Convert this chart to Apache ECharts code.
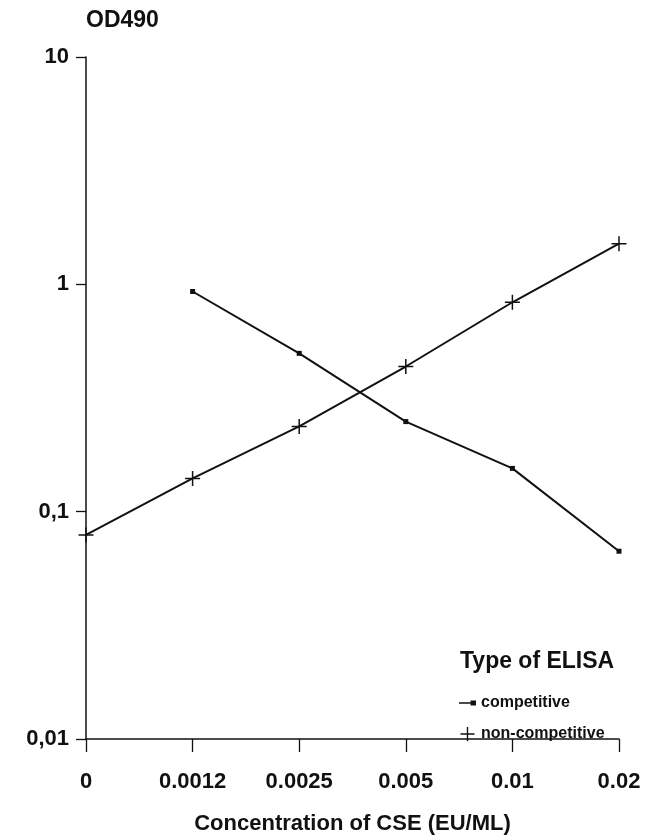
<!DOCTYPE html>
<html>
<head>
<meta charset="utf-8">
<script src="https://cdn.jsdelivr.net/npm/echarts@6/dist/echarts.min.js"></script>
<style>
  html, body { margin: 0; padding: 0; background: #fff; }
  #chart { width: 656px; height: 838px; }
</style>
</head>
<body>
<div id="chart"></div>
<script>
var categories = ["0", "0.0012", "0.0025", "0.005", "0.01", "0.02"];
var competitive = [null, 0.93, 0.497, 0.249, 0.155, 0.067];
var nonCompetitive = [0.079, 0.14, 0.237, 0.435, 0.834, 1.51];
var yTickValues = [0.01, 0.1, 1, 10];
var yTickLabels = ["0,01", "0,1", "1", "10"];

var font = "'Liberation Sans', Arial, sans-serif";
var plusIcon = 'path://M0,6.3H14V7.7H0Z M6.3,0H7.7V14H6.3Z';
var dotLineIcon = 'path://M0,6.3H13V7.7H0Z M9.5,5H14V9H9.5Z';

var chart = echarts.init(document.getElementById("chart"));
chart.setOption({
    backgroundColor: '#fff',
    animation: false,
    title: {
        text: 'Type of ELISA',
        left: 455,
        top: 645,
        textStyle: { fontFamily: font, fontSize: 23, fontWeight: 'bold', color: '#111' }
    },
    legend: {
        orient: 'vertical',
        left: 454,
        top: 690,
        itemGap: 15,
        itemWidth: 17,
        itemHeight: 14,
        textStyle: { fontFamily: font, fontSize: 16, fontWeight: 'bold', color: '#111' },
        data: [
            { name: 'competitive', icon: dotLineIcon },
            { name: 'non-competitive', icon: plusIcon }
        ]
    },
    grid: { left: 86, right: 37, top: 57, bottom: 99, outerBoundsMode: 'none' },
    xAxis: {
        type: 'category',
        data: categories,
        boundaryGap: false,
        name: 'Concentration of CSE (EU/ML)',
        nameLocation: 'middle',
        nameGap: 74,
        nameTextStyle: { fontFamily: font, fontSize: 22, fontWeight: 'bold', color: '#111' },
        axisLine: { lineStyle: { color: '#111', width: 1.5 } },
        axisTick: { alignWithLabel: true, length: 13, lineStyle: { color: '#111', width: 1.3 } },
        axisLabel: { margin: 32, fontFamily: font, fontSize: 22, fontWeight: 'bold', color: '#111' },
        splitLine: { show: false }
    },
    yAxis: {
        type: 'log',
        logBase: 10,
        min: 0.01,
        max: 10,
        name: 'OD490',
        nameLocation: 'end',
        nameGap: 25,
        nameTextStyle: { fontFamily: font, fontSize: 23, fontWeight: 'bold', color: '#111', align: 'left' },
        axisLine: { show: true, lineStyle: { color: '#111', width: 1.5 } },
        axisTick: { show: true, length: 10, lineStyle: { color: '#111', width: 1.3 } },
        minorTick: { show: false },
        axisLabel: {
            margin: 17,
            fontFamily: font, fontSize: 22, fontWeight: 'bold', color: '#111',
            formatter: function (v) {
                for (var i = 0; i < yTickValues.length; i++) {
                    if (Math.abs(Math.log10(v) - Math.log10(yTickValues[i])) < 1e-6) return yTickLabels[i];
                }
                return '';
            }
        },
        splitLine: { show: false }
    },
    series: [
        {
            name: 'competitive',
            type: 'line',
            data: competitive,
            symbol: 'rect',
            symbolSize: 5,
            lineStyle: { color: '#111', width: 2 },
            itemStyle: { color: '#111' }
        },
        {
            name: 'non-competitive',
            type: 'line',
            data: nonCompetitive,
            symbol: plusIcon,
            symbolSize: 15,
            showAllSymbol: true,
            lineStyle: { color: '#111', width: 2 },
            itemStyle: { color: '#111' }
        }
    ]
});
</script>
</body>
</html>
